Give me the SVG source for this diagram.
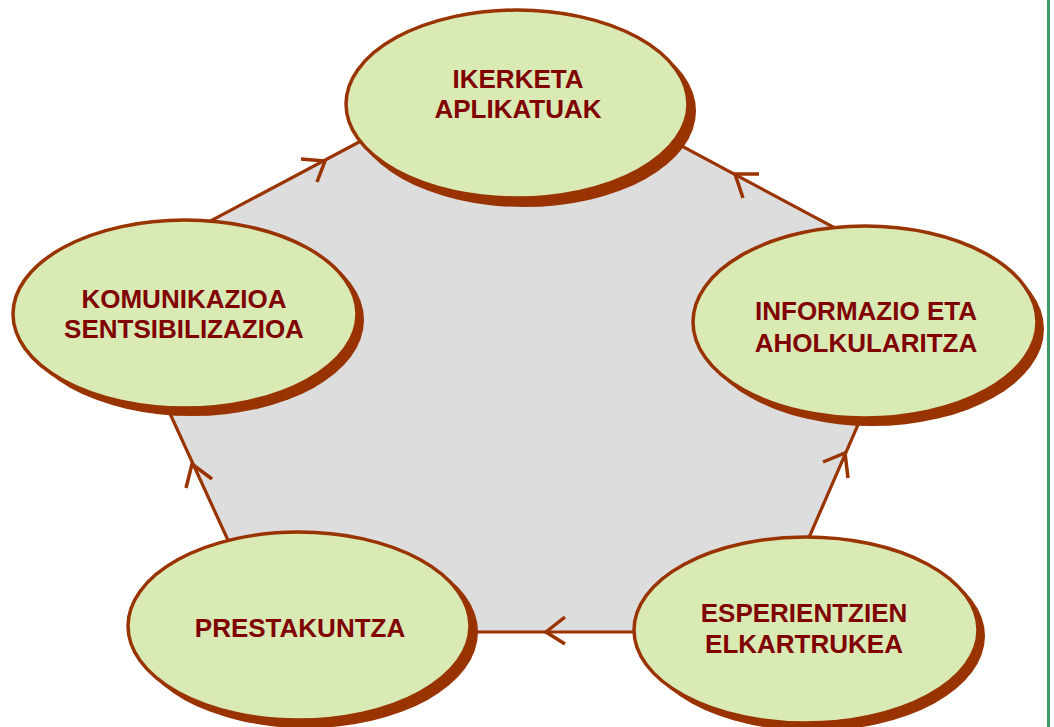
<svg xmlns="http://www.w3.org/2000/svg" width="1054" height="727" viewBox="0 0 1054 727">
<style>
.shadow{fill:#993300}
.node{fill:#D9EAB4;stroke:#993300;stroke-width:3.5}
.lbl{font-family:"Liberation Sans",Arial,sans-serif;font-weight:bold;font-size:26px;fill:#800000;text-anchor:middle}
.edge{fill:#DDDDDD;stroke:#993300;stroke-width:3.2}
.arr{fill:none;stroke:#993300;stroke-width:3.5;stroke-linecap:butt}
</style>
<rect x="0" y="0" width="1054" height="727" fill="#ffffff"/>
<rect x="1047" y="0" width="3" height="727" fill="#3c9d6a"/>
<g id="connectors">
<polygon class="edge" points="517,58 923,275 768,632 270,632 107,276"/>
<polyline class="arr" points="301,159 325,161 317,182"/>
<polyline class="arr" points="759,174 735,174 743,198"/>
<polyline class="arr" points="823,462 845,453 848,478"/>
<polyline class="arr" points="565,617 546,632 565,644"/>
<polyline class="arr" points="186,488 192,464 212,479"/>
</g>
<g id="node-ikerketa">
<ellipse class="shadow" cx="524" cy="111" rx="172" ry="96"/>
<ellipse class="node" cx="517" cy="104" rx="171" ry="94"/>
<text class="lbl" x="518" y="88">IKERKETA</text>
<text class="lbl" x="518" y="118">APLIKATUAK</text>
</g>
<g id="node-komunikazioa">
<ellipse class="shadow" cx="192" cy="320" rx="172" ry="96"/>
<ellipse class="node" cx="185" cy="314" rx="172" ry="94"/>
<text class="lbl" x="184" y="308">KOMUNIKAZIOA</text>
<text class="lbl" x="184" y="338">SENTSIBILIZAZIOA</text>
</g>
<g id="node-informazio">
<ellipse class="shadow" cx="872" cy="329" rx="172" ry="97"/>
<ellipse class="node" cx="865" cy="322" rx="172" ry="96"/>
<text class="lbl" x="866" y="320">INFORMAZIO ETA</text>
<text class="lbl" x="866" y="352">AHOLKULARITZA</text>
</g>
<g id="node-prestakuntza">
<ellipse class="shadow" cx="306" cy="632" rx="172" ry="96"/>
<ellipse class="node" cx="299" cy="626" rx="171" ry="94"/>
<text class="lbl" x="300" y="637">PRESTAKUNTZA</text>
</g>
<g id="node-esperientzien">
<ellipse class="shadow" cx="813" cy="636" rx="172" ry="95"/>
<ellipse class="node" cx="806" cy="630" rx="172" ry="93"/>
<text class="lbl" x="804" y="622">ESPERIENTZIEN</text>
<text class="lbl" x="804" y="653">ELKARTRUKEA</text>
</g>
</svg>
